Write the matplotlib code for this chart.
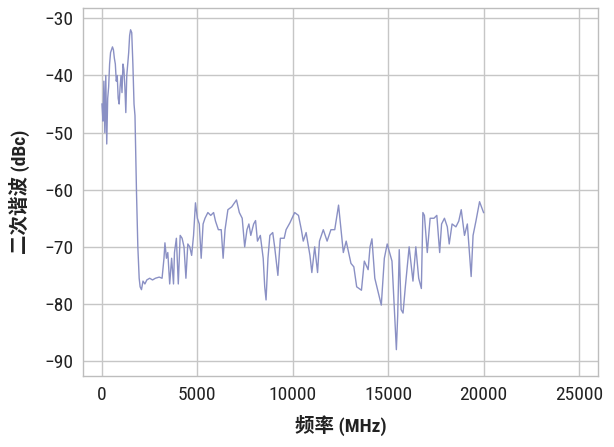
import matplotlib
matplotlib.use("Agg")
import matplotlib.pyplot as plt

# second harmonic trace
freq_mhz = [0, 50, 100, 150, 200, 250, 300, 350, 400, 450, 550, 600, 650, 700,
            750, 800, 850, 900, 950, 1000, 1050, 1100, 1150, 1200, 1250, 1300,
            1350, 1400, 1450, 1500, 1560, 1620, 1680, 1730, 1810, 1880, 1950,
            2000, 2070, 2150, 2250, 2350, 2500, 2650, 2800, 3000, 3150, 3250,
            3300, 3380, 3450, 3550, 3650, 3750, 3800, 3900, 4000, 4100, 4200,
            4300, 4400, 4500, 4600, 4700, 4800, 4900, 5000, 5100, 5200, 5300,
            5400, 5550, 5700, 5850, 5950, 6100, 6250, 6350, 6450, 6600, 6800,
            7050, 7200, 7350, 7480, 7600, 7700, 7800, 7950, 8050, 8150, 8300,
            8450, 8530, 8600, 8700, 8800, 8950, 9050, 9220, 9350, 9550, 9650,
            9850, 10100, 10300, 10450, 10550, 10700, 10900, 11000, 11150, 11300,
            11400, 11600, 11800, 12000, 12200, 12400, 12500, 12650, 12800, 13050,
            13200, 13350, 13600, 13750, 13950, 14050, 14150, 14300, 14640, 14800,
            14950, 15200, 15430, 15500, 15580, 15680, 15780, 15900, 16100, 16300,
            16450, 16600, 16740, 16820, 16900, 17050, 17200, 17400, 17550, 17700,
            17800, 17950, 18100, 18200, 18350, 18550, 18700, 18830, 19000, 19150,
            19350, 19450, 19600, 19790, 20000]
harmonic_dbc = [-45, -48, -41, -50, -40, -52, -44, -42, -38, -36, -35, -35.5, -37, -38,
                -41, -40, -44, -45, -42, -40, -43, -38, -39, -42, -46.5, -40,
                -38, -36, -33, -32, -32.5, -38, -45, -47, -60.5, -70, -75.5,
                -77, -77.5, -76, -76.5, -75.8, -75.5, -75.8, -75.5, -75.3, -75.5, -72,
                -69.3, -72, -71, -76.5, -72, -76.5, -71, -68.5, -76.5, -68, -68.5,
                -70, -75.5, -69.5, -70, -71.5, -68, -62.3, -65, -66, -72, -66,
                -65, -64, -64.5, -64, -65.5, -67, -67, -72, -67, -63.5, -63,
                -61.8, -64, -65, -70, -67, -66, -68, -66, -65.4, -69, -68,
                -72, -77, -79.3, -72, -68, -67.5, -70, -75, -68.5, -68.5, -67,
                -65.8, -64, -64.5, -67, -69, -67.5, -71.5, -74.5, -70, -74.5,
                -69, -67, -69, -67, -67, -62.7, -66, -71, -69, -72.9,
                -73.5, -77, -77.6, -72.5, -74, -70, -68.6, -75.5, -80.2, -72,
                -69.5, -72.5, -88, -82, -70.5, -81, -81.6, -77, -70, -76,
                -70, -75.5, -77.3, -64, -64.5, -71, -65, -65, -64.5, -71,
                -66, -65, -66.5, -69.5, -66, -66.5, -65.5, -63.5, -68, -66,
                -75.2, -68, -65.5, -62.1, -64]

x_ticks = [0, 5000, 10000, 15000, 20000, 25000]
y_ticks = [-90, -80, -70, -60, -50, -40, -30]

plt.rcParams['font.family'] = ['Roboto Condensed', 'Noto Sans CJK SC', 'DejaVu Sans']

fig = plt.figure(figsize=(6.14, 4.47), dpi=100)
ax = fig.add_axes([0.135, 0.159, 0.839, 0.823])

ax.plot(freq_mhz, harmonic_dbc, color='#8a90c4', linewidth=1.0)

ax.set_xlim(-1000, 26000)
ax.set_ylim(-92.6, -28.2)
ax.set_xticks(x_ticks)
ax.set_yticks(y_ticks)
ax.grid(True, color='#c6c6c6', linewidth=1.0)
ax.set_axisbelow(True)
ax.tick_params(length=0, labelsize=14, pad=7, labelcolor='#222222')
for s in ax.spines.values():
    s.set_color('#bdbdbd')
    s.set_linewidth(1.0)

ax.set_xlabel('频率 (MHz)', fontsize=14, fontweight='bold', labelpad=8, color='#222222')
ax.set_ylabel('二次谐波 (dBc)', fontsize=14, fontweight='bold', labelpad=10, color='#222222')

fig.savefig('out.png', dpi=100)
